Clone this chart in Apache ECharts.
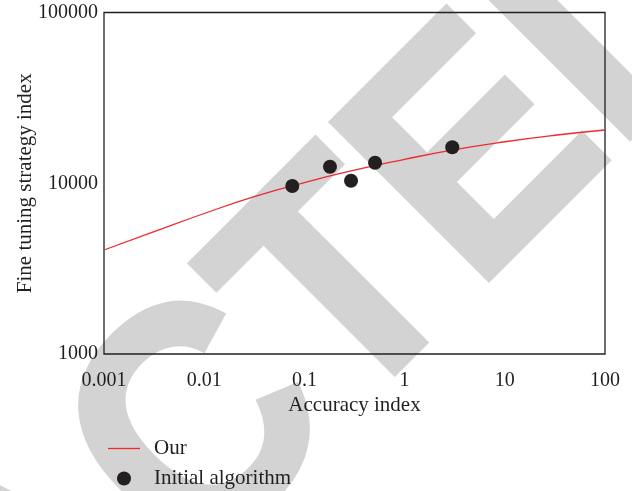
<!DOCTYPE html>
<html>
<head>
<meta charset="utf-8">
<script src="https://cdn.jsdelivr.net/npm/echarts@6/dist/echarts.min.js"></script>
<style>html,body{margin:0;padding:0;background:#fff}#c{width:632px;height:491px}</style>
</head>
<body>
<div id="c"></div>
<script>
// Data
const curveX = [0.001, 0.00316, 0.01, 0.0316, 0.1, 0.316, 1, 3.16, 10, 31.6, 100];
const curveY = [4065, 5210, 6650, 8340, 10100, 11940, 13800, 15740, 17500, 19100, 20500];
const dotX = [0.0757, 0.180, 0.292, 0.507, 2.99];
const dotY = [9640, 12500, 10350, 13190, 16250];
const seriesNames = ['Our', 'Initial algorithm'];
const xTitle = 'Accuracy index';
const yTitle = 'Fine tuning strategy index';
const watermark = 'RETRACTED';

const ink = '#231f20';
const font = 'Liberation Serif';
const chart = echarts.init(document.getElementById('c'), null, {renderer: 'canvas'});
const fmt = v => String(+(+v).toPrecision(6));

// watermark geometry
const wmSize = 322;
const wmScaleX = 0.93;
const ang = Math.PI / 4;
const tCenter = [347, 295];
const offset = 4.4715 * wmSize * wmScaleX;
const wx = tCenter[0] - offset * Math.cos(ang);
const wy = tCenter[1] + offset * Math.sin(ang);

chart.setOption({
  animation: false,
  backgroundColor: '#fff',
  graphic: [{
    type: 'text', z: -100, zlevel: 0, silent: true,
    x: wx, y: wy, rotation: ang, scaleX: wmScaleX,
    style: {text: watermark, fill: '#d3d3d3', stroke: '#d3d3d3', lineWidth: 6,
      font: 'bold ' + wmSize + 'px "Liberation Sans"',
      textAlign: 'left', textVerticalAlign: 'middle'}
  }],
  grid: {left: 104, right: 27, top: 12.5, bottom: 137, show: true, borderColor: ink, borderWidth: 1.3, backgroundColor: 'transparent'},
  legend: {
    orient: 'vertical', left: 103, top: 433, height: 58, itemWidth: 32, itemHeight: 14, itemGap: 9,
    symbolKeepAspect: true,
    textStyle: {fontFamily: font, fontSize: 21, lineHeight: 21, color: ink, padding: [0, 0, 0, 9]},
    data: [{name: seriesNames[0], icon: 'path://M0,0 L32,0 L32,1.3 L0,1.3 Z'}, {name: seriesNames[1], icon: 'circle'}]
  },
  xAxis: {
    type: 'log', logBase: 10, min: 0.001, max: 100, splitNumber: 5,
    name: xTitle, nameLocation: 'middle', nameGap: 41, nameMoveOverlap: false,
    nameTextStyle: {fontFamily: font, fontSize: 21, color: ink},
    axisLine: {show: false}, axisTick: {show: false}, splitLine: {show: false},
    axisLabel: {fontFamily: font, fontSize: 20, color: ink, margin: 17, formatter: fmt, showMinLabel: true, showMaxLabel: true}
  },
  yAxis: {
    type: 'log', logBase: 10, min: 1000, max: 100000, splitNumber: 2,
    name: yTitle, nameLocation: 'middle', nameGap: 68, nameMoveOverlap: false,
    nameTextStyle: {fontFamily: font, fontSize: 21, color: ink},
    axisLine: {show: false}, axisTick: {show: false}, splitLine: {show: false},
    axisLabel: {fontFamily: font, fontSize: 20, color: ink, margin: 6, formatter: fmt, showMinLabel: true, showMaxLabel: true}
  },
  series: [{
    name: seriesNames[0], type: 'line', smooth: true, symbol: 'none',
    data: curveX.map((x, i) => [x, curveY[i]]),
    lineStyle: {color: '#ee2a2f', width: 1.3}, itemStyle: {color: '#ee2a2f'}, z: 3
  }, {
    name: seriesNames[1], type: 'scatter', symbol: 'circle', symbolSize: 14,
    data: dotX.map((x, i) => [x, dotY[i]]),
    itemStyle: {color: ink, opacity: 1}, z: 4
  }]
});
</script>
</body>
</html>
